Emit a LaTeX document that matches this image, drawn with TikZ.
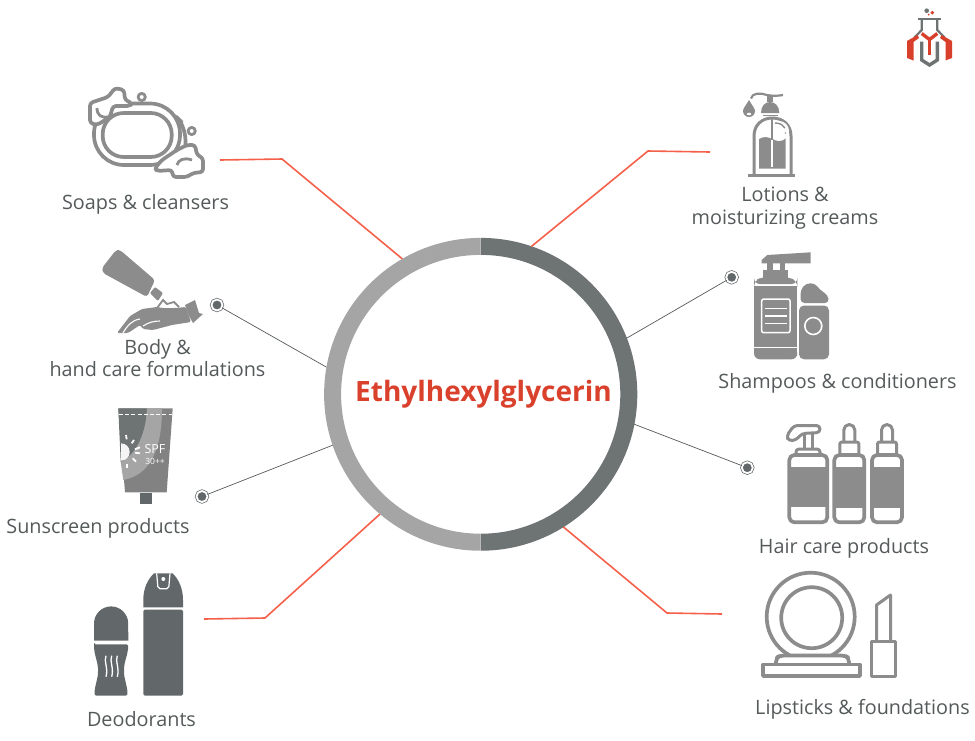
\documentclass[tikz,border=0pt]{standalone}
\usepackage{fontspec}
\setmainfont{Open Sans}
\usepackage{tikz}
\usetikzlibrary{positioning, calc}

\definecolor{icongrey}{HTML}{8C8C8C}
\definecolor{icondark}{HTML}{62686A}
\definecolor{ringlight}{HTML}{A5A5A5}
\definecolor{ringdark}{HTML}{6E7373}
\definecolor{textgrey}{HTML}{54595A}
\definecolor{titlered}{HTML}{DA412D}
\definecolor{linered}{HTML}{F4604A}
\definecolor{logored}{HTML}{D8402C}

\tikzset{
	itemtext/.style={text=textgrey, font=\fontsize{19.8}{22.5}\selectfont, align=center, inner sep=0pt},
	titletext/.style={text=titlered, font=\fontsize{28}{30}\selectfont\bfseries, inner sep=0pt},
	dotmark/.style={circle, draw=icondark, line width=0.7pt, double=white, double distance=1.8pt, fill=icondark, minimum size=11pt, inner sep=0pt},
	redline/.style={draw=linered, line width=1.6pt},
	greyline/.style={draw=textgrey, line width=0.7pt},
	iconline/.style={draw=icongrey, line width=3.7pt, line join=round},
	logoline/.style={line width=3.4pt, line join=miter}
}

\begin{document}
\begin{tikzpicture}[x=1pt, y=1pt]
	\useasboundingbox (0,0) rectangle (975,-740);

	% centre ring
	\node[circle, minimum size=312.8pt, inner sep=0pt, outer sep=0pt] (ring) at (480.5,-394.3) {};
	\fill[ringlight] (480.5,-237.9) arc[start angle=90, end angle=270, radius=156.4] -- ++(0,17) arc[start angle=270, end angle=90, radius=139.4] -- cycle;
	\fill[ringdark] (480.9,-237.9) arc[start angle=90, end angle=-90, radius=156.4] -- ++(0,17) arc[start angle=-90, end angle=90, radius=139.4] -- cycle;
	\node[titletext] (title) at (483.5,-394) {Ethylhexylglycerin};

	% connectors
	\coordinate (soapend) at (220,-160);
	\coordinate (soapbend) at (282,-159);
	\coordinate (lotionend) at (710,-152);
	\coordinate (lotionbend) at (648,-151);
	\coordinate (lipend) at (722,-614);
	\coordinate (lipbend) at (667,-613);
	\coordinate (deoend) at (204,-619);
	\coordinate (deobend) at (265,-618);
	\foreach \from/\via/\ang in {soapend/soapbend/120, lotionend/lotionbend/71, lipend/lipbend/302, deoend/deobend/230.5}
		\draw[redline] (\from) -- (\via) -- (ring.\ang);

	\node[dotmark] (dotbody) at (217,-305) {};
	\node[dotmark] (dotsun) at (202,-496.5) {};
	\node[dotmark] (dotshampoo) at (731.7,-277.3) {};
	\node[dotmark] (dothair) at (747.3,-467.7) {};
	\foreach \from/\ang in {dotbody/170, dotsun/199, dotshampoo/21, dothair/349.6}
		\draw[greyline] (\from) -- (ring.\ang);

	% labels
	\node[itemtext] (soaptext) at (145.5,-204) {Soaps \& cleansers};
	\node[itemtext] (bodytext) at (157.5,-358) {Body \&\\hand care formulations};
	\node[itemtext] (suntext) at (98,-528) {Sunscreen products};
	\node[itemtext] (deotext) at (141.5,-718.8) {Deodorants};
	\node[itemtext] (lotiontext) at (785,-208) {Lotions \&\\moisturizing creams};
	\node[itemtext] (shampootext) at (837.5,-383) {Shampoos \& conditioners};
	\node[itemtext] (hairtext) at (844,-548) {Hair care products};
	\node[itemtext] (liptext) at (862.5,-709) {Lipsticks \& foundations};

	% soap
	\draw[iconline, rounded corners=24pt] (120,-105) -- (165,-105) -- (193,-134) -- (178,-165);
	\draw[iconline, fill=white, rounded corners=30pt] (94,-103.5) rectangle (180,-165);
	\draw[iconline, rounded corners=21pt] (102.7,-113) rectangle (171.7,-157);
	\draw[iconline, line width=2.8pt, fill=white] (141.7,-97) circle (3.6);
	\draw[iconline, line width=2.8pt, fill=white] (191.7,-131) circle (3.6);
	\draw[iconline, fill=white, rounded corners=3pt] (90,-103) -- (108,-97) -- (115,-88) -- (124,-90) -- (125,-100) -- (132,-103) -- (130,-106) -- (113,-106) -- (110,-117) -- (97,-125) -- (90,-123) -- cycle;
	\draw[iconline, line width=2.8pt] (97,-108) .. controls (97,-115) and (101,-118) .. (108,-117);
	\draw[iconline, fill=white, rounded corners=3pt] (155,-168) -- (162,-160) -- (177,-150) -- (187,-145) -- (195,-145) -- (197,-155) -- (203,-158) -- (203,-172) -- (193,-173) -- (187,-177) -- (173,-177) -- (172,-170) -- (157,-171) -- cycle;
	\draw[iconline, line width=2.8pt] (177,-165) .. controls (178,-160) and (184,-157) .. (192,-160);

	% body care
	\fill[icongrey, rounded corners=3pt] (116,-250) -- (102,-268) -- (103,-273) -- (147,-297) -- (155,-280) -- (120,-250) -- cycle;
	\fill[icongrey, rounded corners=1pt] (150,-293) -- (155,-287) -- (163,-293) -- (158,-301) -- cycle;
	\fill[icongrey, rounded corners=1.5pt] (186,-307) -- (191,-322) -- (172,-325) -- (153,-330) -- (143,-329) -- (140,-325) -- (128,-333) -- (117,-333) -- (130,-316) -- (142,-309) -- (157,-307) -- (163,-308) -- (175,-308) -- cycle;
	\draw[white, line width=1.1pt] (123,-333) .. controls (127,-326) and (132,-320) .. (140,-319);
	\draw[white, line width=1.1pt] (143,-326) .. controls (149,-322) and (155,-321) .. (160,-321);
	\draw[icongrey, line width=1.8pt] (157,-308) -- (163,-300) -- (167,-304) -- (174,-302) -- (179,-307);
	\fill[icongrey] (185,-305) -- (195,-300) -- (199,-313) -- (203,-314) -- (193,-323) -- (189,-316) -- cycle;

	% sunscreen
	\fill[gray!80!icongrey] (118.3,-408.3) -- (172.7,-408.3) -- (166.7,-492.3) -- (125,-492.3) -- cycle;
	\fill[ringlight] (146.7,-408.3) .. controls (146,-435) and (135,-455) .. (120.7,-462) -- (123.3,-480) .. controls (150,-475) and (162,-450) .. (162,-408.3) -- cycle;
	\fill[ringdark] (118.3,-408.3) -- (146.7,-408.3) .. controls (146,-435) and (135,-455) .. (120.7,-462) -- cycle;
	\fill[icondark] (140,-493.3) rectangle (151.7,-504.3);
	\draw[white, line width=0.9pt, dash pattern=on 4pt off 2.2pt] (119,-414) -- (172,-414);
	\fill[white!92!gray] (121,-443.3) arc[start angle=90, end angle=-90, radius=8.7] -- cycle;
	\foreach \a/\b/\c/\d in {126/435/126.7/439.3, 134/440/131.7/443.3, 140/447.3/135/449.3, 140/453.3/135/452.7, 136/461.7/132.7/458.3, 126.7/468.3/126.7/464}
		\draw[white, line width=1.8pt] (\a,-\b) -- (\c,-\d);
	\node[text=white, font=\fontsize{12.5}{14}\selectfont, inner sep=0pt] (spftext) at (155,-449.5) {SPF};
	\node[text=white, font=\fontsize{8.5}{10}\selectfont, inner sep=0pt] (spfnum) at (155,-461) {30++};

	% deodorants
	\fill[icondark] (94,-640.7) -- (94,-623.5) arc[start angle=180, end angle=0, radius=17.1] -- (128.3,-640.7) -- cycle;
	\fill[icondark, rounded corners=1.5pt] (94,-644.3) -- (128.3,-644.3) .. controls (128,-655) and (124,-662) .. (124,-670) .. controls (124,-680) and (127.5,-685) .. (127.5,-695.7) -- (94.5,-695.7) .. controls (94.5,-685) and (98,-680) .. (98,-670) .. controls (98,-662) and (94,-655) .. (94,-644.3) -- cycle;
	\foreach \x in {106,111.7,117.3}
		\draw[white, line width=1.3pt] (\x,-655.7) .. controls (\x-2.5,-661) and (\x+2.5,-668) .. (\x,-676.7);
	\fill[icondark] (143.3,-607.3) -- (143.3,-600) .. controls (143.3,-588) and (148,-579) .. (154,-573.3) -- (172.5,-573.3) .. controls (178.5,-579) and (183,-588) .. (183,-600) -- (183,-607.3) -- cycle;
	\fill[icondark, rounded corners=1.5pt] (143.3,-609.5) rectangle (183,-695.7);
	\draw[white, line width=1.2pt, rounded corners=2pt] (156.7,-573.3) -- (158,-588.7) -- (168.7,-588.7) -- (170,-573.3);
	\fill[white] (163.3,-579) circle (2);

	% lotion
	\draw[iconline, line width=3pt] (748.3,-175) -- (795,-175);
	\draw[iconline, line width=3pt] (754,-175) -- (754,-136) .. controls (754,-125) and (762,-118) .. (772.3,-118) .. controls (783,-118) and (791,-125) .. (791,-136) -- (791,-175);
	\fill[icongrey] (759,-168.5) -- (759,-139) .. controls (764,-136) and (768,-137) .. (772.3,-139) .. controls (776,-140) and (780,-140) .. (785.7,-138) -- (785.7,-168.5) -- cycle;
	\fill[white] (779,-131) circle (10);
	\draw[icongrey, line width=1.4pt] (775,-123) .. controls (780,-123) and (783,-125) .. (785,-128);
	\fill[icongrey] (785.3,-133) circle (0.8);
	\draw[icongrey, line width=1.8pt] (772.3,-118) -- (772.3,-140);
	\draw[white, line width=1.8pt] (772.3,-140) -- (772.3,-167);
	\fill[icongrey] (761,-113) .. controls (761,-106) and (765,-102) .. (770,-102) .. controls (775,-102) and (779.3,-106) .. (779.3,-113) -- cycle;
	\fill[icongrey] (763,-114.5) rectangle (778,-116);
	\fill[icongrey] (767,-96) rectangle (773,-102);
	\draw[iconline, line width=2.2pt] (751,-98.5) .. controls (752,-93) and (760,-92.5) .. (767,-95) .. controls (772,-96) and (778,-96) .. (783,-95);
	\fill[icongrey] (749,-100) .. controls (751,-104) and (755,-108) .. (755,-111) arc[start angle=0, end angle=-180, radius=6] .. controls (743,-108) and (747,-104) .. (749,-100) -- cycle;
	\fill[white] (749,-114) ellipse (2.2 and 1.3);

	% shampoo
	\fill[icongrey, rounded corners=6pt] (754,-284) -- (754,-281) -- (762,-277) -- (788,-277) -- (797.3,-281) -- (797.3,-284) -- cycle;
	\fill[icongrey] (762.7,-270) rectangle (788.3,-279);
	\fill[icongrey] (767.3,-263) rectangle (772.7,-270);
	\fill[icongrey] (780,-263) rectangle (784.7,-270);
	\fill[icongrey] (761.7,-260) -- (767.3,-255) -- (810.7,-252.3) -- (810.7,-263.3) -- (761.7,-263.3) -- cycle;
	\fill[icongrey] (754,-285.8) rectangle (797.3,-346.5);
	\fill[icongrey, rounded corners=6pt] (754,-348) rectangle (797.3,-359.3);
	\fill[icongrey] (754,-348) rectangle (797.3,-353);
	\draw[white, line width=1.5pt, rounded corners=2pt] (761.7,-299) rectangle (790,-332.7);
	\foreach \y in {308.3,316,323.3}
		\draw[white, line width=1.3pt] (765,-\y) -- (786.7,-\y);
	\fill[icongrey, rounded corners=4pt] (800.5,-303) -- (800.5,-290) -- (806,-283.3) -- (815,-283.3) -- (820,-290) -- (828,-295) -- (829,-303) -- cycle;
	\fill[icongrey, rounded corners=5pt] (799,-305.5) -- (829,-305.5) -- (829,-359.3) -- (799,-359.3) -- cycle;
	\draw[white, line width=1.6pt] (813.3,-326) circle (8.5);

	% hair care
	\draw[iconline, fill=white, rounded corners=5pt] (789.3,-455) rectangle (827.3,-522.3);
	\fill[icongrey] (789.3,-467.3) rectangle (827.3,-507.3);
	\draw[iconline, line width=3pt, rounded corners=3pt] (796,-455) -- (796,-449) -- (820,-449) -- (820,-455);
	\draw[iconline, line width=3pt] (804,-449) -- (804,-434) (812,-449) -- (812,-434);
	\draw[iconline, line width=3pt, rounded corners=3.5pt] (820,-425.5) -- (794,-425.5) -- (786.5,-436) -- (789,-441) -- (796,-440) -- (802,-433.5) -- (820,-432.5) -- cycle;
	\foreach \x in {849.3,887} {
		\draw[iconline, fill=white, rounded corners=5pt] (\x-15,-455) rectangle (\x+15,-522.3);
		\fill[icongrey] (\x-15,-467.3) rectangle (\x+15,-508);
		\draw[iconline, line width=3pt, rounded corners=2pt] (\x-9.5,-455) -- (\x-9.5,-442) -- (\x+9.5,-442) -- (\x+9.5,-455);
		\draw[iconline, line width=3pt] (\x-5.5,-442) -- (\x-5.5,-430) arc[start angle=180, end angle=0, radius=5.5] -- (\x+5.5,-442);
	}

	% compact and lipstick
	\draw[iconline] (810.7,-616.7) circle (44);
	\draw[iconline] (811.7,-617.7) circle (30.5);
	\draw[iconline, fill=white, rounded corners=4pt] (776,-664) -- (776,-658) -- (780,-655.5) -- (845,-655.5) -- (849,-658) -- (849,-664);
	\draw[iconline, fill=white] (763,-664.5) rectangle (860,-676);
	\draw[iconline, line width=3pt] (871.5,-641) rectangle (895.2,-676.2);
	\draw[iconline, line width=3pt] (876.5,-641) -- (876.5,-605) -- (890.5,-595) -- (890.5,-641);

	% logo
	\draw[logoline, draw=ringdark, line width=2.2pt] (918.3,-19.3) -- (940.7,-19.3);
	\draw[logoline, draw=ringdark, line width=2.2pt] (921.7,-20) -- (921.7,-30) -- (914.5,-37.5);
	\draw[logoline, draw=ringdark, line width=2.2pt] (937.3,-20) -- (937.3,-30) -- (944.5,-37.5);
	\draw[logoline, draw=logored] (921.7,-33.5) -- (929.5,-39.5) -- (937.3,-33.5);
	\draw[logoline, draw=logored] (929.5,-39.5) -- (929.5,-55);
	\draw[logoline, draw=ringdark] (921.7,-41.7) -- (921.7,-60) -- (929.5,-65) -- (937.3,-60) -- (937.3,-41.7);
	\fill[logored] (917.5,-35) -- (907,-41) -- (907,-58) -- (913.5,-60.5) -- (913.5,-42) -- (919,-38) -- cycle;
	\fill[logored] (941.5,-35) -- (952,-41) -- (952,-58) -- (945.5,-60.5) -- (945.5,-42) -- (940,-38) -- cycle;
	\fill[ringdark] (926.7,-10.7) circle (2.3);
	\fill[logored] (932.3,-12.7) circle (1.9);
	\fill[logored] (928.7,-14.7) circle (1);
\end{tikzpicture}
\end{document}
